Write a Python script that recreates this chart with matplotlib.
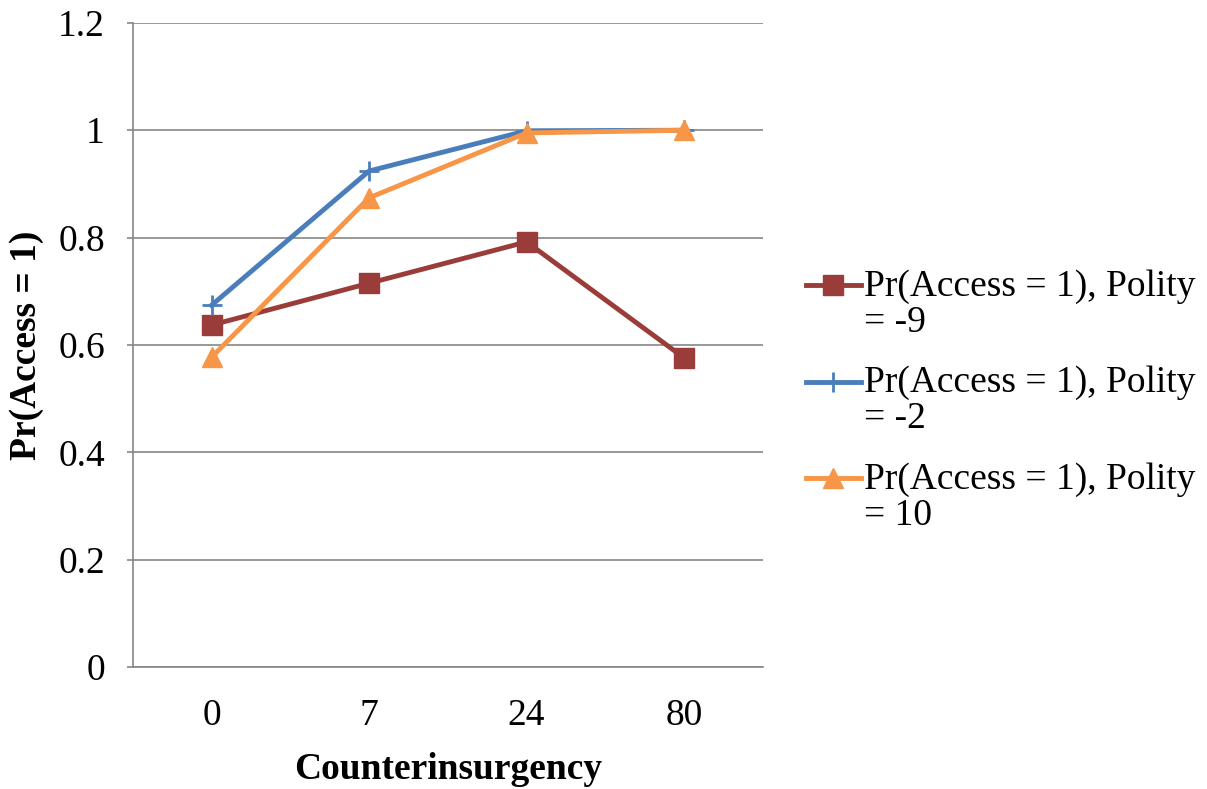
import matplotlib.pyplot as plt
import matplotlib.transforms as mtransforms
from matplotlib.legend_handler import HandlerLine2D

plt.rcParams['font.family'] = ['Liberation Serif', 'DejaVu Serif']

# counterinsurgency levels (categorical axis)
categories = ['0', '7', '24', '80']

# predicted probabilities for each polity score
p_polity_m9 = [0.637, 0.715, 0.792, 0.576]
p_polity_m2 = [0.674, 0.924, 0.999, 1.0]
p_polity_10 = [0.577, 0.874, 0.995, 1.0]

labels = ['Pr(Access = 1), Polity\n= -9',
          'Pr(Access = 1), Polity\n= -2',
          'Pr(Access = 1), Polity\n= 10']


class HandlerFirstLine(HandlerLine2D):
    # put the legend key next to the first line of a wrapped label
    def create_artists(self, legend, orig_handle, xdescent, ydescent,
                       width, height, fontsize, trans):
        arts = super().create_artists(legend, orig_handle, xdescent, ydescent,
                                      width, height, fontsize, trans)
        shift = mtransforms.Affine2D().translate(0, 14) + trans
        for a in arts:
            a.set_transform(shift)
        return arts


fig = plt.figure(figsize=(12.07, 7.89), dpi=100)
ax = fig.add_axes([0.110, 0.1546, 0.522, 0.8164])

x = range(len(categories))
ax.plot(x, p_polity_m9, color='#993C3A', lw=3.5, marker='s', ms=14,
        label=labels[0])
ax.plot(x, p_polity_m2, color='#4A7EBB', lw=3.5, marker='+', ms=14, mew=2,
        label=labels[1])
ax.plot(x, p_polity_10, color='#F79646', lw=3.5, marker='^', ms=15,
        label=labels[2])

ax.set_xlim(-0.5, 3.5)
ax.set_ylim(0, 1.2)
ax.set_xticks(list(x))
ax.set_xticklabels(categories)
ax.set_yticks([0, 0.2, 0.4, 0.6, 0.8, 1.0, 1.2])
ax.set_yticklabels(['0', '0.2', '0.4', '0.6', '0.8', '1', '1.2'])
ax.tick_params(axis='x', length=0, pad=23, labelsize=27)
ax.tick_params(axis='y', length=4, width=1.2, color='#868686', pad=16,
               labelsize=27)
ax.yaxis.grid(True, color='#868686', lw=1.2)
ax.set_axisbelow(True)
for side in ['top', 'right']:
    ax.spines[side].set_visible(False)
for side in ['left', 'bottom']:
    ax.spines[side].set_color('#868686')
    ax.spines[side].set_linewidth(1.2)

ax.set_xlabel('Counterinsurgency', fontsize=27, fontweight='bold', labelpad=13)
ax.set_ylabel('Pr(Access = 1)', fontsize=27, fontweight='bold', labelpad=10)

leg = ax.legend(loc='center left', bbox_to_anchor=(1.044, 0.413),
                frameon=False, fontsize=27, handlelength=1.47,
                handletextpad=0.1, labelspacing=0.7, borderaxespad=0,
                handler_map={plt.Line2D: HandlerFirstLine()})
for t in leg.get_texts():
    t.set_linespacing(1.05)

fig.savefig('out.png', dpi=100)
